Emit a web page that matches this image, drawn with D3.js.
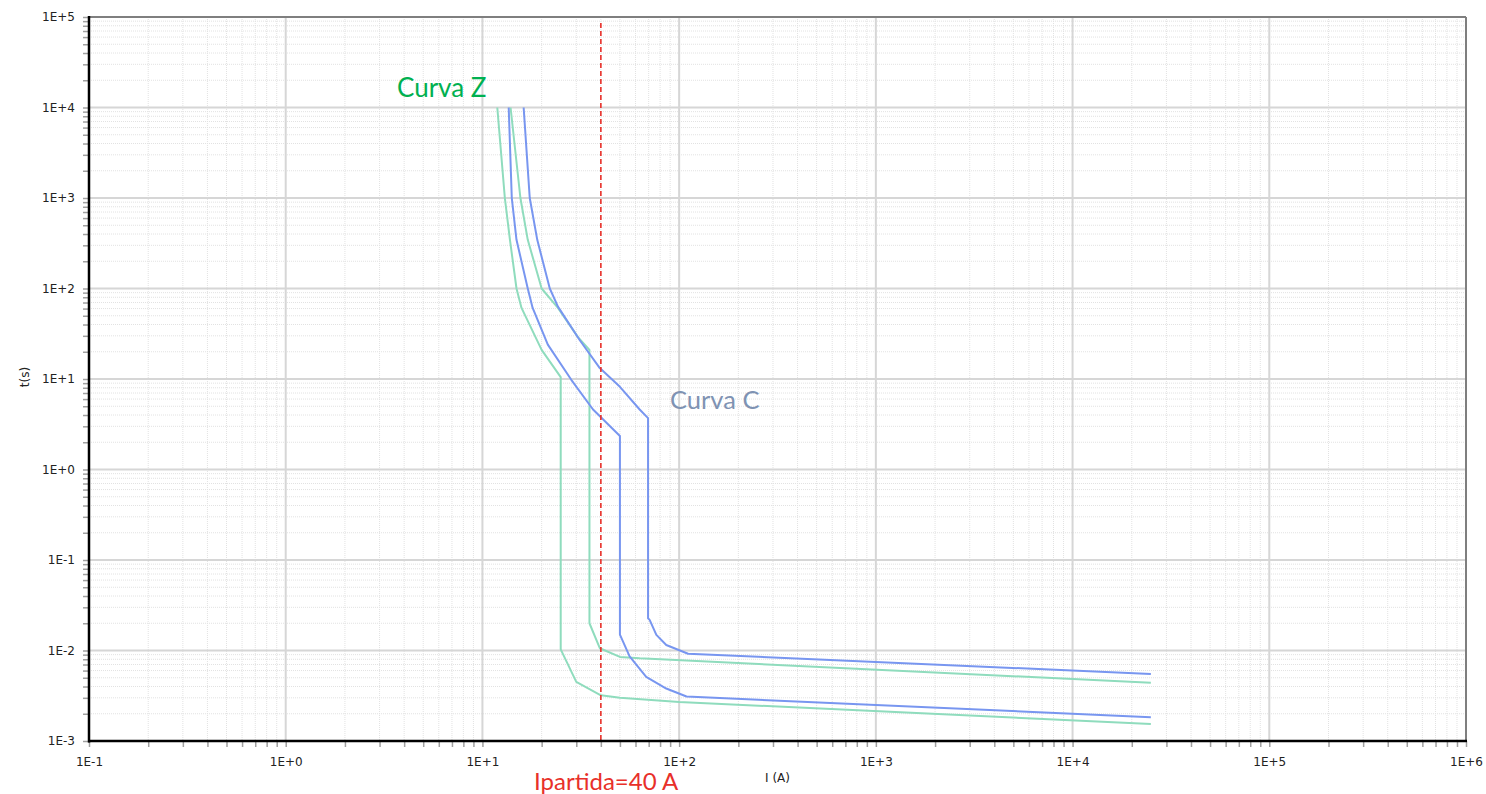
<!DOCTYPE html>
<html>
<head>
<meta charset="utf-8">
<script src="https://cdn.jsdelivr.net/npm/d3@7"></script>
<style>
  html, body { margin: 0; padding: 0; background: #fff; }
  svg { display: block; }
</style>
</head>
<body>
<svg id="chart" width="1486" height="794"></svg>
<script>
// ---- data ----
const xDecades = [0.1, 1, 10, 100, 1000, 10000, 100000, 1000000];
const yDecades = [0.001, 0.01, 0.1, 1, 10, 100, 1000, 10000, 100000];

// Curva Z (two boundary curves)
const zLowerI = [11.9, 13, 13.8, 14.9, 15.8, 20, 25, 25, 30, 40, 50, 100, 25000];
const zLowerT = [10000, 1000, 345, 100, 61, 21, 10.5, 0.0103, 0.0045, 0.0032, 0.0030, 0.0027, 0.00154];
const zUpperI = [13.9, 15.6, 17, 20, 24.2, 30.6, 35, 35, 39.5, 50, 63, 25000];
const zUpperT = [10000, 1000, 345, 100, 61, 29, 21, 0.02, 0.0106, 0.0085, 0.0082, 0.0044];

// Curva C (two boundary curves)
const cLowerI = [13.6, 14.1, 14.9, 17, 18, 21.5, 28.3, 36.5, 50, 50, 56, 68, 86, 109, 25000];
const cLowerT = [10000, 1000, 345, 100, 61, 24, 9.8, 4.6, 2.35, 0.015, 0.0086, 0.0051, 0.0038, 0.0031, 0.00183];
const cUpperI = [16.2, 17.4, 19, 22, 24.2, 31.2, 39.5, 50, 63, 69.5, 69.5, 70.8, 76.6, 86, 111, 25000];
const cUpperT = [10000, 1000, 345, 100, 63, 27, 13.2, 8.2, 4.6, 3.7, 0.0227, 0.0218, 0.0149, 0.0115, 0.0092, 0.0055];

const startCurrent = 40;

// ---- layout ----
const svg = d3.select("#chart");
const L = 89, R = 1466, T = 17, B = 741;
const x = d3.scaleLog().domain([0.1, 1e6]).range([L, R]);
const y = d3.scaleLog().domain([1e-3, 1e5]).range([B, T]);

function fmt(v) {
  const e = Math.round(Math.log10(v));
  return "1E" + (e >= 0 ? "+" : "-") + Math.abs(e);
}
function minors(decades) {
  const out = [];
  for (let i = 0; i < decades.length - 1; i++)
    for (let k = 2; k <= 9; k++) out.push(decades[i] * k);
  return out;
}
const xMinor = minors(xDecades), yMinor = minors(yDecades);

// ---- grid ----
const g = svg.append("g");
g.selectAll(".xm").data(xMinor).join("line")
  .attr("x1", d => x(d)).attr("x2", d => x(d)).attr("y1", T).attr("y2", B)
  .attr("stroke", "#e2e2e2").attr("stroke-width", 1).attr("stroke-dasharray", "1,1");
g.selectAll(".ym").data(yMinor).join("line")
  .attr("y1", d => y(d)).attr("y2", d => y(d)).attr("x1", L).attr("x2", R)
  .attr("stroke", "#e2e2e2").attr("stroke-width", 1).attr("stroke-dasharray", "1,1");
g.selectAll(".xM").data(xDecades).join("line")
  .attr("x1", d => x(d)).attr("x2", d => x(d)).attr("y1", T).attr("y2", B)
  .attr("stroke", "#d6d6d6").attr("stroke-width", 2);
g.selectAll(".yM").data(yDecades).join("line")
  .attr("y1", d => y(d)).attr("y2", d => y(d)).attr("x1", L).attr("x2", R)
  .attr("stroke", "#d6d6d6").attr("stroke-width", 2);

// ---- curves ----
const line = d3.line().x(d => x(d[0])).y(d => y(d[1]));
function curve(I, Tm, color) {
  svg.append("path").datum(I.map((v, i) => [v, Tm[i]]))
    .attr("d", line).attr("fill", "none")
    .attr("stroke", color).attr("stroke-width", 2).attr("stroke-linejoin", "round");
}
const green = "#8fdcbd", blue = "#7896f0";
curve(zLowerI, zLowerT, green);
curve(zUpperI, zUpperT, green);
curve(cLowerI, cLowerT, blue);
curve(cUpperI, cUpperT, blue);

// ---- start current line ----
svg.append("line")
  .attr("x1", x(startCurrent)).attr("x2", x(startCurrent)).attr("y1", T + 6).attr("y2", B)
  .attr("stroke", "#e8302a").attr("stroke-width", 1.6).attr("stroke-dasharray", "5,3");

// ---- frame ----
svg.append("line").attr("x1", L).attr("x2", R).attr("y1", T).attr("y2", T)
  .attr("stroke", "#7f7f7f").attr("stroke-width", 2);
svg.append("line").attr("x1", R).attr("x2", R).attr("y1", T).attr("y2", B)
  .attr("stroke", "#7f7f7f").attr("stroke-width", 2);

// ---- axes ----
const yAxis = d3.axisLeft(y)
  .tickValues(yDecades.concat(yMinor))
  .tickFormat(d => yDecades.includes(d) ? fmt(d) : "")
  .tickSize(6).tickPadding(8);
const ya = svg.append("g").attr("transform", `translate(${L},0)`).call(yAxis);
ya.select(".domain").remove();
ya.selectAll(".tick line").attr("stroke", "#a0a0a0").attr("stroke-width", 1.5);
ya.selectAll(".tick text").attr("font-family", "DejaVu Sans").attr("font-size", 12).attr("fill", "#222");

const xAxis = d3.axisBottom(x)
  .tickValues(xDecades.concat(xMinor))
  .tickFormat(d => xDecades.includes(d) ? fmt(d) : "")
  .tickSize(6).tickPadding(10);
const xa = svg.append("g").attr("transform", `translate(0,${B})`).call(xAxis);
xa.select(".domain").remove();
xa.selectAll(".tick line").attr("stroke", "#a0a0a0").attr("stroke-width", 1.5);
xa.selectAll(".tick text").attr("font-family", "DejaVu Sans").attr("font-size", 12).attr("fill", "#222");

svg.append("line").attr("x1", L).attr("x2", L).attr("y1", T - 1).attr("y2", B + 1.5)
  .attr("stroke", "#000").attr("stroke-width", 2.5);
svg.append("line").attr("x1", L - 1).attr("x2", R + 1).attr("y1", B).attr("y2", B)
  .attr("stroke", "#000").attr("stroke-width", 2.5);

// ---- axis titles ----
svg.append("text").attr("x", (L + R) / 2).attr("y", 782).attr("text-anchor", "middle")
  .attr("font-family", "DejaVu Sans").attr("font-size", 12).attr("fill", "#222").text("I (A)");
svg.append("text").attr("transform", "translate(29,377) rotate(-90)").attr("text-anchor", "middle")
  .attr("font-family", "DejaVu Sans").attr("font-size", 12).attr("fill", "#222").text("t(s)");

// ---- annotations ----
svg.append("text").attr("x", 397).attr("y", 97)
  .attr("font-family", "Lato").attr("font-size", 26).attr("fill", "#00b050").text("Curva Z");
svg.append("text").attr("x", 670).attr("y", 409)
  .attr("font-family", "Lato").attr("font-size", 25.5).attr("fill", "#7f93b3").text("Curva C");
svg.append("text").attr("x", 534).attr("y", 790)
  .attr("font-family", "Lato").attr("font-size", 24).attr("fill", "#e8302a").text("Ipartida=40 A");
</script>
</body>
</html>
